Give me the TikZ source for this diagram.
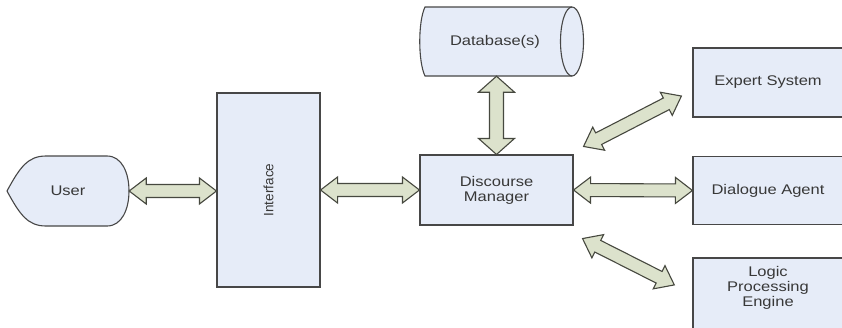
\documentclass[tikz,border=0pt]{standalone}
\usepackage{fontspec}
\setmainfont{Liberation Sans}[FakeStretch=1.18]
\newfontfamily\plainsans{Liberation Sans}
\usetikzlibrary{calc}

\definecolor{boxfill}{HTML}{E6ECF8}
\definecolor{boxline}{HTML}{474747}
\definecolor{arrfill}{HTML}{DCE2CC}
\definecolor{arrline}{HTML}{46483F}
\definecolor{txt}{HTML}{383838}

\tikzset{
  x=1pt, y=1pt,
  txtsty/.style={text=txt, font=\fontsize{14}{15}\selectfont, align=center, inner sep=0pt},
  boxsty/.style={draw=boxline, fill=boxfill, line width=1.1pt, rectangle, txtsty},
  ghost/.style={draw=none, fill=none, txtsty},
  outline/.style={draw=boxline, fill=boxfill, line width=1.1pt},
  arrowsty/.style={draw=arrline, fill=arrfill, line width=1.1pt, line join=miter},
}

% double-headed block arrow: from, to, head half width, shaft half width, head length
\newcommand\dblarrow[5]{%
  \path let \p1=(#1), \p2=(#2),
            \n1={atan2(\y2-\y1,\x2-\x1)},
            \n2={veclen(\x2-\x1,\y2-\y1)} in
        \pgfextra{\xdef\arang{\n1}\xdef\arlen{\n2}};
  \begin{scope}[shift={(#1)}, rotate=\arang]
    \draw[arrowsty] (0,0) -- (#5,#3) -- (#5,#4) -- ({\arlen-#5},#4)
      -- ({\arlen-#5},#3) -- (\arlen,0) -- ({\arlen-#5},-#3)
      -- ({\arlen-#5},-#4) -- (#5,-#4) -- (#5,-#3) -- cycle;
  \end{scope}}

\begin{document}
\begin{tikzpicture}
\useasboundingbox (0,0) rectangle (842,-327);
\clip (0,0) rectangle (842,-327);
\fill[white] (0,0) rectangle (842,-327);

% user (display shape)
\node[ghost, minimum width=122, minimum height=70] (user) at (68,-191) {};
\begin{scope}[shift={(user.center)}]
  \draw[outline] (-61,0) .. controls (-48,24) and (-40,35) .. (-22,35) -- (39,35)
     .. controls (54,35) and (61,18) .. (61,0)
     .. controls (61,-18) and (54,-35) .. (39,-35) -- (-22,-35)
     .. controls (-40,-35) and (-48,-24) .. (-61,0) -- cycle;
\end{scope}
\node[txtsty] at (user.center) {User};

% database (horizontal cylinder)
\node[ghost, minimum width=160, minimum height=69] (db) at (500,-41.5) {};
\begin{scope}[shift={(db.center)}]
  \draw[outline] (-75,34.5) -- (72,34.5) arc[start angle=90, end angle=-90, x radius=11.5, y radius=34.5]
     -- (-75,-34.5) .. controls (-82,-20) and (-82,20) .. (-75,34.5) -- cycle;
  \draw[draw=boxline, line width=1.1pt] (72,34.5) arc[start angle=90, end angle=270, x radius=11.5, y radius=34.5];
\end{scope}
\node[txtsty] at ($(db.center)+(-5,0)$) {Database(s)};

% rectangular boxes
\node[boxsty, minimum width=103, minimum height=194] (iface) at (268.5,-190)
  {\rotatebox{90}{\plainsans\fontsize{13.5}{14}\selectfont Interface}};
\node[boxsty, minimum width=153, minimum height=70] (dm) at (496.5,-190) {Discourse\\Manager};
\node[boxsty, minimum width=150, minimum height=69] (expert) at (768,-82.5) {Expert System};
\node[boxsty, minimum width=150, minimum height=68] (dialog) at (768,-190.5) {Dialogue Agent};
\node[boxsty, minimum width=150, minimum height=76,
      label={[txtsty, yshift=8]center:Logic\\Processing\\Engine}] (logic) at (768,-296) {};

% connector end points
\coordinate (exA) at ($(dm.north east)+(10,8)$);
\coordinate (exB) at ($(expert.west)+(-11,-13.5)$);
\coordinate (lgA) at ($(dm.south east)+(9,-13)$);
\coordinate (lgB) at ($(logic.west)+(-18,11)$);

% connectors
\dblarrow{user.east}{user.east -| iface.west}{13}{6.5}{17}
\dblarrow{iface.east}{dm.west}{13}{6.5}{17}
\dblarrow{dm.east}{dialog.west}{13}{6.5}{17}
\dblarrow{dm.north}{dm.north |- db.south}{18}{7}{16}
\dblarrow{exA}{exB}{13}{6.5}{17}
\dblarrow{lgA}{lgB}{13}{6.5}{17}
\end{tikzpicture}
\end{document}
